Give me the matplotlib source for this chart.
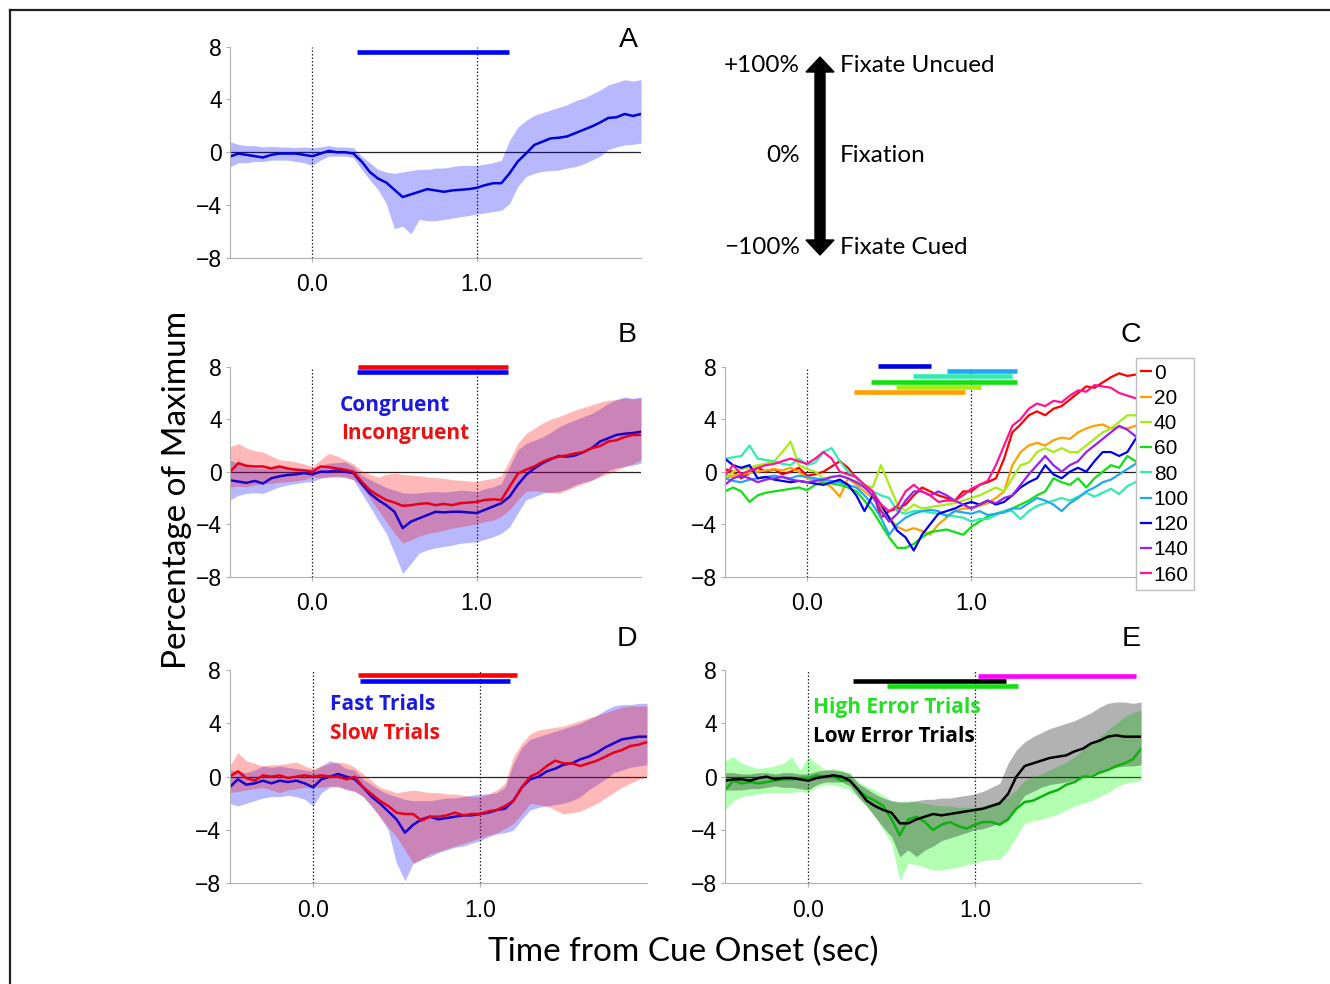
import numpy as np
import matplotlib
matplotlib.use('Agg')
import matplotlib.pyplot as plt
from matplotlib.patches import Polygon

plt.rcParams['font.family'] = ['Liberation Sans', 'DejaVu Sans']

# waktu (detik), grid 0.05 s
t = np.round(np.arange(-0.5, 2.0001, 0.05), 3)

# ---- Panel A ----
a_mean = [-0.33, -0.1, -0.2, -0.3, -0.4, -0.2, -0.1, -0.1, -0.1, -0.2, -0.3,
          -0.1, 0.1, 0.0, 0.0, -0.1, -0.7, -1.5, -2.0, -2.3, -2.85,
          -3.4, -3.2, -3.0, -2.8, -2.9, -3.0, -2.9, -2.85, -2.8, -2.7,
          -2.5, -2.35, -2.35, -1.6, -0.7, -0.1, 0.55, 0.8, 1.05, 1.1,
          1.2, 1.45, 1.7, 1.95, 2.25, 2.6, 2.65, 2.9, 2.75, 2.9]
a_upper = [0.8, 0.6, 0.5, 0.5, 0.4, 0.45, 0.4, 0.4, 0.35, 0.4, 0.35,
           0.4, 0.5, 0.4, 0.4, 0.35, -0.3, -0.8, -1.3, -1.5, -1.6,
           -1.5, -1.4, -1.3, -1.3, -1.2, -1.2, -1.1, -1.0, -1.0, -1.0,
           -0.9, -0.8, -0.6, 0.9, 1.9, 2.4, 2.8, 3.0, 3.2, 3.4,
           3.6, 3.9, 4.1, 4.4, 4.7, 5.1, 5.3, 5.5, 5.4, 5.5]
a_lower = [-1.1, -0.8, -0.8, -0.7, -0.7, -0.6, -0.6, -0.6, -0.7, -0.8, -1.0,
           -0.6, -0.3, -0.3, -0.3, -0.4, -1.3, -2.1, -2.85, -3.9, -5.8,
           -5.6, -6.2, -5.1, -5.2, -5.2, -5.1, -5.0, -4.9, -4.8, -4.7,
           -4.6, -4.5, -4.4, -3.9, -2.6, -1.85, -1.6, -1.45, -1.4, -1.35,
           -1.2, -1.1, -0.9, -0.6, -0.3, 0.2, 0.4, 0.55, 0.6, 0.7]
a_sig = [(0.27, 1.195, 7.6, '#0000ff')]

# ---- Panel B ----
b_cong = [-0.65, -0.75, -0.85, -0.7, -0.9, -0.5, -0.35, -0.25, -0.2, -0.1, -0.2,
          0.0, 0.0, 0.1, 0.0, -0.1, -0.9, -1.65, -2.15, -2.55, -3.05,
          -4.3, -3.8, -3.55, -3.3, -3.05, -3.1, -3.05, -3.05, -3.1, -3.15,
          -2.9, -2.65, -2.4, -1.9, -1.0, -0.25, 0.25, 0.65, 0.95, 1.2,
          1.15, 1.25, 1.5, 1.8, 2.3, 2.55, 2.8, 2.9, 2.95, 3.05]
b_incong = [0.0, 0.65, 0.45, 0.4, 0.4, 0.25, 0.4, 0.25, 0.15, 0.1, 0.0,
            0.4, 0.35, 0.25, 0.15, 0.0, -0.75, -1.4, -1.8, -2.15, -2.35,
            -2.6, -2.55, -2.45, -2.4, -2.55, -2.45, -2.55, -2.4, -2.35, -2.3,
            -2.15, -2.1, -2.15, -1.15, -0.15, 0.15, 0.4, 0.75, 1.0, 1.15,
            1.25, 1.4, 1.5, 1.8, 1.95, 2.3, 2.4, 2.65, 2.8, 2.8]
b_cong_up = [0.9, 0.6, 0.4, 0.3, 0.25, 0.3, 0.35, 0.3, 0.3, 0.25, 0.25,
             0.5, 0.65, 0.7, 0.75, 0.4, -0.25, -0.6, -0.9, -1.2, -1.4,
             -1.6, -1.65, -1.6, -1.55, -1.5, -1.55, -1.5, -1.4, -1.45, -1.5,
             -1.3, -1.15, -0.9, 0.4, 1.65, 2.15, 2.4, 2.65, 3.0, 3.4,
             3.7, 3.95, 4.2, 4.45, 4.8, 5.2, 5.5, 5.7, 5.6, 5.7]
b_cong_lo = [-2.15, -1.8, -1.65, -1.6, -1.65, -1.4, -1.15, -1.0, -0.9, -0.8, -0.75,
             -0.5, -0.4, -0.35, -0.4, -0.6, -1.65, -2.65, -3.7, -4.7, -6.2,
             -7.75, -7.0, -6.2, -5.95, -5.8, -5.7, -5.6, -5.45, -5.4, -5.35,
             -5.15, -4.95, -4.7, -4.2, -3.15, -2.15, -1.9, -1.65, -1.55, -1.5,
             -1.3, -1.0, -0.8, -0.65, -0.3, 0.1, 0.3, 0.4, 0.5, 0.65]
b_incong_up = [1.9, 2.15, 1.8, 1.6, 1.5, 1.2, 0.9, 0.85, 0.75, 0.6, 0.4,
               0.9, 1.4, 1.2, 0.9, 0.6, 0.1, -0.2, -0.4, -0.2, -0.1,
               -0.2, -0.25, -0.3, -0.4, -0.45, -0.5, -0.6, -0.65, -0.7, -0.75,
               -0.6, -0.5, -0.3, 0.9, 2.15, 2.9, 3.3, 3.7, 4.0, 4.2,
               4.45, 4.7, 4.9, 5.1, 5.3, 5.45, 5.5, 5.6, 5.55, 5.6]
b_incong_lo = [-1.15, -1.1, -1.15, -1.0, -0.9, -0.9, -0.8, -0.75, -0.7, -0.6, -0.4,
               -0.45, -0.4, -0.4, -0.45, -0.6, -1.15, -2.0, -2.9, -3.8, -4.7,
               -5.45, -5.2, -4.9, -4.7, -4.6, -4.45, -4.3, -4.2, -4.1, -3.95,
               -3.8, -3.7, -3.4, -2.9, -2.15, -1.5, -1.45, -1.5, -1.6, -1.65,
               -1.4, -1.15, -0.9, -0.65, -0.4, -0.15, 0.1, 0.4, 0.6, 0.9]
b_sig = [(0.28, 1.19, 8.0, '#ff0000'), (0.27, 1.19, 7.6, '#0000ff')]

# ---- Panel C ----
c_labels = ['0', '20', '40', '60', '80', '100', '120', '140', '160']
c_colors = ['#ff0000', '#ffa000', '#a8ec10', '#10e010', '#30ecb0',
            '#20a8f8', '#0000e8', '#9a20ee', '#ff1496']
c_0 = [0.2, 0.0, -0.5, -0.1, 0.3, 0.0, 0.2, -0.2, 0.0, 0.3, -0.3,
       -0.2, 0.0, 0.4, 0.8, 0.3, -0.5, -1.0, -1.5, -3.5, -3.0,
       -2.8, -2.5, -1.8, -1.2, -1.5, -1.8, -2.0, -2.2, -1.5, -1.5,
       -1.0, -0.8, -0.5, 1.0, 3.0, 3.6, 4.3, 4.6, 4.3, 4.8,
       5.0, 5.5, 6.0, 6.5, 6.4, 6.8, 7.2, 7.5, 7.3, 7.4]
c_20 = [-0.5, -0.3, -0.2, -0.1, 0.0, 0.1, 0.2, 0.1, 0.3, 0.0, -0.5,
        -0.6, -0.8, -1.2, -1.9, -0.5, -1.0, -1.5, -2.0, -2.8, -3.5,
        -4.2, -4.5, -4.3, -4.5, -4.8, -4.0, -3.5, -3.0, -2.8, -2.8,
        -2.6, -2.4, -2.0, -1.5, 0.5, 1.5, 2.0, 2.2, 2.0, 2.4,
        2.6, 2.5, 3.0, 3.3, 3.5, 3.6, 3.3, 3.4, 3.3, 3.5]
c_40 = [-0.5, 0.0, 0.2, 0.3, 0.5, 0.6, 0.8, 1.5, 2.3, 0.5, 0.2,
        0.0, -0.5, -0.4, -0.3, -0.5, -0.8, -1.0, -1.2, 0.5, -1.0,
        -2.5, -3.0, -2.5, -2.8, -2.7, -2.6, -2.5, -2.4, -2.2, -2.0,
        -1.8, -1.5, -1.2, -1.5, -0.5, 0.5, 0.7, 1.5, 1.8, 1.5,
        1.8, 1.5, 1.5, 2.0, 2.5, 3.0, 3.3, 3.8, 4.3, 4.3]
c_60 = [-1.5, -1.2, -1.5, -2.3, -1.8, -1.6, -1.5, -1.4, -1.3, -1.2, -1.4,
        -1.0, -0.8, -0.9, -1.0, -1.2, -1.5, -2.2, -3.0, -4.0, -5.0,
        -5.8, -5.8, -5.5, -5.0, -4.6, -4.5, -4.4, -4.6, -4.8, -4.2,
        -3.8, -3.4, -3.2, -3.0, -2.8, -2.5, -2.2, -1.8, -1.5, -0.5,
        -0.8, -1.0, -0.5, -1.2, -0.5, 0.0, 0.5, 0.3, 1.2, 0.8]
c_80 = [1.0, 1.1, 1.2, 2.0, 1.0, 0.9, 0.8, 0.6, 0.5, 1.0, 0.5,
        0.7, 1.5, 1.8, 0.8, 0.0, -0.5, -1.0, -1.5, -1.8, -2.0,
        -3.0, -3.2, -3.0, -3.0, -3.1, -3.2, -3.3, -3.4, -3.5, -3.8,
        -3.6, -3.6, -3.3, -3.0, -3.0, -3.6, -3.0, -2.6, -2.4, -2.2,
        -2.0, -2.2, -1.9, -1.6, -1.9, -1.6, -1.3, -1.7, -1.1, -0.8]
c_100 = [-0.5, -0.7, -0.8, -0.6, -0.5, -0.4, -0.3, -0.4, -0.5, -0.3, -0.4,
         -0.5, -0.6, -0.7, -0.8, -1.0, -1.2, -1.8, -2.5, -3.5, -4.8,
         -4.0, -3.5, -3.2, -3.0, -2.9, -3.0, -3.4, -3.0, -3.1, -3.2,
         -3.0, -3.3, -3.2, -3.1, -2.8, -2.8, -2.4, -2.0, -2.2, -2.5,
         -3.0, -2.4, -2.0, -1.5, -1.2, -0.8, -0.6, -0.2, 0.2, 0.6]
c_120 = [1.0, 0.5, 0.3, 0.5, -0.5, -0.4, -0.6, -0.7, -0.8, -0.7, -0.8,
         -0.9, -1.0, -0.8, -0.6, -1.0, -1.8, -3.0, -1.8, -2.5, -3.5,
         -4.5, -5.0, -6.0, -4.8, -4.0, -3.2, -3.0, -2.8, -2.5, -2.3,
         -2.5, -2.2, -2.5, -2.3, -1.8, -1.2, -0.8, -0.5, 0.5, -0.2,
         -0.5, 0.0, 0.3, 0.0, 0.8, 1.5, 1.5, 1.2, 1.5, 2.5]
c_140 = [-1.0, -0.5, -0.3, -0.5, -0.8, -0.6, -0.5, -0.4, -0.6, -0.7, -0.8,
         -0.7, -0.6, -0.4, -0.3, -0.5, -0.8, -1.2, -1.8, -3.0, -3.8,
         -3.2, -2.2, -1.5, -1.5, -1.8, -1.5, -1.8, -2.2, -2.5, -2.8,
         -2.5, -2.2, -2.4, -2.0, -1.8, -1.0, -0.2, 0.5, 1.2, 0.5,
         0.0, 0.5, 0.8, 1.5, 2.0, 2.5, 3.0, 3.5, 3.2, 2.7]
c_160 = [-0.3, 0.5, -0.2, 0.1, 0.3, 0.5, 0.6, 0.8, 1.0, 0.8, 0.6,
         1.0, 1.5, 1.0, 0.0, -0.2, -0.4, -1.0, -1.5, -2.5, -3.0,
         -2.6, -1.5, -1.0, -1.5, -1.8, -2.3, -2.2, -2.2, -1.8, -1.3,
         -1.0, -0.7, 0.5, 2.0, 3.5, 4.0, 4.8, 5.2, 5.0, 5.4,
         5.3, 5.8, 6.2, 6.1, 6.6, 6.5, 6.4, 6.0, 5.8, 5.6]
c_series = [c_0, c_20, c_40, c_60, c_80, c_100, c_120, c_140, c_160]
c_sig = [(0.43, 0.755, 8.08, '#0000e8'), (0.85, 1.28, 7.7, '#20a8f8'),
         (0.645, 1.25, 7.3, '#30ecb0'), (0.39, 1.28, 6.86, '#10e010'),
         (0.54, 1.06, 6.48, '#a8ec10'), (0.286, 0.96, 6.1, '#ffa000')]

# ---- Panel D ----
d_fast = [-0.8, -0.2, -0.6, -0.5, -0.3, -0.5, -0.3, -0.4, -0.3, -0.5, -0.8,
          -0.2, 0.0, 0.2, 0.0, -0.2, -0.8, -1.5, -2.0, -2.6, -3.2,
          -4.2, -3.6, -3.2, -3.0, -3.2, -3.1, -3.0, -2.9, -2.9, -2.8,
          -2.7, -2.5, -2.4, -1.8, -0.8, -0.2, 0.0, 0.4, 0.6, 0.9,
          1.0, 1.3, 1.5, 1.8, 2.2, 2.5, 2.8, 2.9, 3.0, 3.0]
d_slow = [0.0, 0.4, -0.1, -0.3, 0.1, 0.0, 0.1, -0.1, 0.0, 0.1, 0.0,
          0.1, 0.0, 0.0, -0.2, 0.0, -0.8, -1.3, -1.8, -2.2, -2.7,
          -2.8, -2.8, -3.3, -3.0, -3.0, -2.9, -2.7, -2.9, -2.8, -2.8,
          -2.6, -2.5, -2.2, -1.8, -0.8, 0.0, 0.3, 0.8, 1.2, 1.0,
          1.0, 0.8, 1.0, 1.2, 1.5, 1.8, 2.0, 2.3, 2.4, 2.6]
d_fast_up = [0.5, 0.4, 0.3, 0.5, 0.8, 0.7, 0.8, 0.7, 0.6, 0.5, 0.4,
             0.8, 1.2, 1.0, 0.6, 0.5, -0.2, -0.6, -1.0, -1.3, -1.5,
             -1.7, -1.8, -1.8, -1.8, -1.7, -1.6, -1.6, -1.5, -1.4, -1.3,
             -1.3, -1.2, -0.8, 1.0, 2.2, 2.8, 3.0, 3.2, 3.4, 3.6,
             3.8, 4.0, 4.3, 4.6, 5.0, 5.3, 5.4, 5.4, 5.5, 5.5]
d_fast_lo = [-2.0, -2.2, -2.0, -1.8, -1.6, -1.5, -1.5, -1.4, -1.5, -1.7, -2.2,
             -1.2, -0.8, -0.7, -1.0, -1.1, -1.5, -2.2, -3.0, -4.0, -6.5,
             -7.8, -6.5, -6.2, -6.0, -5.7, -5.5, -5.3, -5.2, -5.0, -4.8,
             -4.5, -4.3, -4.2, -4.0, -3.2, -2.5, -2.3, -2.2, -2.1, -2.0,
             -1.8, -1.5, -1.0, -0.6, -0.2, 0.3, 0.5, 0.7, 0.8, 0.9]
d_slow_up = [0.8, 1.8, 1.2, 1.0, 0.8, 0.9, 0.9, 1.0, 1.1, 0.8, 0.6,
             0.8, 1.0, 1.1, 1.0, 0.7, 0.2, -0.3, -0.8, -1.0, -1.2,
             -1.1, -1.0, -1.1, -1.2, -1.2, -1.3, -1.3, -1.4, -1.5, -1.5,
             -1.3, -1.0, -0.5, 1.5, 2.5, 3.2, 3.5, 3.6, 3.7, 3.8,
             4.0, 4.2, 4.4, 4.6, 4.8, 5.0, 5.2, 5.3, 5.3, 5.3]
d_slow_lo = [-1.2, -1.1, -1.0, -0.9, -0.8, -1.0, -1.2, -1.0, -0.9, -0.8, -0.8,
             -0.8, -0.7, -0.8, -0.9, -1.1, -1.5, -2.2, -3.0, -3.8, -4.5,
             -5.5, -6.5, -6.2, -5.8, -5.6, -5.4, -5.2, -5.0, -4.8, -4.6,
             -4.4, -4.2, -3.9, -3.5, -2.8, -2.0, -2.1, -2.2, -2.5, -2.8,
             -2.7, -2.6, -2.3, -2.0, -1.6, -1.2, -0.8, -0.5, -0.2, 0.0]
d_sig = [(0.27, 1.22, 7.6, '#ff0000'), (0.28, 1.18, 7.2, '#0000ff')]

# ---- Panel E ----
e_low = [-0.3, -0.2, -0.2, -0.3, -0.1, 0.0, -0.2, -0.1, -0.1, -0.2, -0.3,
         -0.1, 0.0, 0.1, 0.0, -0.3, -1.0, -1.8, -2.2, -2.5, -2.7,
         -3.5, -3.5, -3.2, -3.0, -2.8, -2.9, -2.8, -2.7, -2.6, -2.5,
         -2.4, -2.2, -2.0, -1.3, 0.0, 0.8, 1.0, 1.2, 1.4, 1.5,
         1.6, 1.9, 2.1, 2.5, 2.7, 3.0, 3.1, 3.0, 3.0, 3.0]
e_high = [-1.0, -0.3, -0.5, -0.4, -0.5, -0.4, -0.3, -0.2, -0.2, -0.1, -0.1,
          0.1, 0.0, 0.0, -0.3, -0.3, -1.0, -1.5, -1.8, -2.2, -3.2,
          -4.4, -3.2, -3.0, -3.4, -4.0, -3.6, -3.4, -3.7, -3.9, -3.6,
          -3.4, -3.4, -3.6, -3.2, -2.4, -1.9, -1.8, -1.5, -1.2, -1.0,
          -0.6, -0.4, 0.0, 0.0, 0.3, 0.5, 0.8, 1.0, 1.3, 2.1]
e_low_up = [0.3, 0.3, 0.2, 0.2, 0.3, 0.3, 0.2, 0.3, 0.3, 0.2, 0.2,
            0.4, 0.5, 0.5, 0.4, 0.2, -0.5, -0.9, -1.3, -1.6, -1.8,
            -1.9, -1.9, -1.8, -1.7, -1.7, -1.6, -1.6, -1.5, -1.4, -1.3,
            -1.1, -0.8, -0.5, 1.0, 2.0, 2.6, 3.0, 3.3, 3.6, 3.8,
            4.0, 4.2, 4.5, 4.8, 5.2, 5.5, 5.6, 5.6, 5.5, 5.6]
e_low_lo = [-1.0, -1.0, -1.0, -0.9, -0.9, -0.8, -0.7, -0.8, -0.8, -0.9, -1.0,
            -0.6, -0.4, -0.4, -0.4, -0.7, -1.5, -2.2, -3.0, -3.8, -4.5,
            -6.0, -5.5, -6.0, -5.5, -5.2, -4.8, -4.6, -4.4, -4.2, -4.0,
            -3.9, -3.7, -3.5, -3.3, -2.3, -1.4, -1.1, -0.8, -0.6, -0.5,
            -0.4, -0.2, 0.0, 0.2, 0.4, 0.6, 0.7, 0.8, 0.8, 0.9]
e_high_up = [1.2, 1.5, 1.0, 0.8, 0.6, 0.7, 0.8, 1.0, 1.5, 0.5, 1.5,
             1.0, 0.5, 0.6, 0.5, 0.3, -0.4, -0.7, -1.0, -1.4, -1.8,
             -1.9, -1.8, -1.9, -2.0, -2.1, -2.2, -2.2, -2.3, -2.3, -2.3,
             -2.2, -2.0, -1.8, -1.5, -1.0, -0.3, 0.0, 0.2, 0.5, 0.8,
             1.1, 1.5, 2.0, 2.5, 3.0, 3.5, 4.0, 4.5, 4.8, 5.0]
e_high_lo = [-2.5, -1.8, -1.5, -1.4, -1.3, -1.2, -1.2, -1.2, -1.2, -1.1, -1.2,
             -0.8, -0.6, -0.6, -0.8, -1.0, -1.6, -2.2, -3.0, -4.0, -5.0,
             -7.8, -6.5, -6.6, -6.8, -7.0, -7.0, -6.9, -6.8, -6.6, -6.5,
             -6.3, -6.2, -6.2, -5.5, -4.5, -3.5, -3.3, -3.2, -3.0, -2.8,
             -2.5, -2.2, -2.0, -1.8, -1.5, -1.2, -0.8, -0.5, -0.4, -0.3]
e_sig = [(1.02, 1.97, 7.55, '#ff00ff'), (0.27, 1.19, 7.2, '#000000'),
         (0.47, 1.26, 6.8, '#10e010')]


def style_axis(ax):
    ax.set_xlim(-0.5, 2.0)
    ax.set_ylim(-8, 8)
    ax.set_yticks([-8, -4, 0, 4, 8])
    ax.set_xticks([0, 1])
    ax.set_xticklabels(['0.0', '1.0'])
    for s in ['top', 'right']:
        ax.spines[s].set_visible(False)
    for s in ['left', 'bottom']:
        ax.spines[s].set_color('#b0b0b0')
    ax.tick_params(axis='both', labelsize=16.5, color='#b0b0b0', length=3)
    ax.tick_params(axis='x', pad=8)
    ax.tick_params(axis='y', pad=3)
    ax.axhline(0, color='#222222', lw=0.9, zorder=1)
    ax.axvline(0, color='#222222', lw=0.9, ls=(0, (1.2, 1.6)), zorder=1)
    ax.axvline(1, color='#222222', lw=0.9, ls=(0, (1.2, 1.6)), zorder=1)
    ax.set_facecolor('none')


def sig_bars(ax, bars):
    for x0, x1, y, c in bars:
        ax.plot([x0, x1], [y, y], color=c, lw=3.3, solid_capstyle='butt',
                clip_on=False, zorder=5)


fig = plt.figure(figsize=(13.3, 9.84), dpi=100)

# latar: bingkai, panah, teks keterangan (koordinat piksel)
bg = fig.add_axes([0, 0, 1, 1])
bg.set_xlim(0, 1330)
bg.set_ylim(984, 0)
bg.axis('off')
bg.plot([10, 1330], [10, 10], color='#222222', lw=1.6)
bg.plot([10, 10], [10, 984], color='#222222', lw=1.6)
arrow = [(820, 57), (834, 72), (825, 72), (825, 240), (834, 240), (820, 255),
         (806, 240), (815, 240), (815, 72), (806, 72)]
bg.add_patch(Polygon(arrow, closed=True, color='black'))
key_font = dict(family=['Lato', 'DejaVu Sans'], fontsize=17.5, va='center')
bg.text(800, 66, '+100%', ha='right', **key_font)
bg.text(840, 66, 'Fixate Uncued', ha='left', **key_font)
bg.text(800, 155, '0%', ha='right', **key_font)
bg.text(840, 155, 'Fixation', ha='left', **key_font)
bg.text(800, 248, '\u2212100%', ha='right', **key_font)
bg.text(840, 248, 'Fixate Cued', ha='left', **key_font)
panel_font = dict(fontsize=20.5, ha='center', va='center')
bg.text(628, 40, 'A', **panel_font)
bg.text(627, 335, 'B', **panel_font)
bg.text(1131, 335, 'C', **panel_font)
bg.text(627, 639, 'D', **panel_font)
bg.text(1131, 639, 'E', **panel_font)

lab_font = dict(family=['Lato', 'DejaVu Sans'], fontsize=24)
fig.text(0.133, 0.502, 'Percentage of Maximum', rotation=90,
         ha='center', va='center', **lab_font)
fig.text(0.514, 0.033, 'Time from Cue Onset (sec)', ha='center', va='center',
         **lab_font)

leg_font = dict(family=['Open Sans', 'DejaVu Sans'], fontsize=15,
                fontweight='bold', va='center', ha='left')

# Panel A
axA = fig.add_axes([0.1730, 0.7381, 0.3090, 0.2144])
style_axis(axA)
axA.fill_between(t, a_lower, a_upper, color='#0000ff', alpha=0.28, lw=0)
axA.plot(t, a_mean, color='#0000dd', lw=1.8)
sig_bars(axA, a_sig)

# Panel B
axB = fig.add_axes([0.1730, 0.4139, 0.3090, 0.2134])
style_axis(axB)
axB.fill_between(t, b_cong_lo, b_cong_up, color='#0000ff', alpha=0.28, lw=0)
axB.fill_between(t, b_incong_lo, b_incong_up, color='#ff0000', alpha=0.28, lw=0)
axB.plot(t, b_cong, color='#1a00cc', lw=1.8)
axB.plot(t, b_incong, color='#e8001a', lw=1.8)
sig_bars(axB, b_sig)
axB.text(0.17, 5.03, 'Congruent', color='#1a1adf', **leg_font)
axB.text(0.177, 2.9, 'Incongruent', color='#ee1010', **leg_font)

# Panel C
axC = fig.add_axes([0.5450, 0.4139, 0.3088, 0.2134])
style_axis(axC)
for vals, col, lab in zip(c_series, c_colors, c_labels):
    axC.plot(t, vals, color=col, lw=1.6, label=lab)
sig_bars(axC, c_sig)
leg = axC.legend(loc='upper left', bbox_to_anchor=(1.0, 1.04), fontsize=15,
                 handlelength=0.5, handletextpad=0.12, labelspacing=0.3,
                 borderpad=0.25, borderaxespad=0, frameon=True, fancybox=False)
leg.get_frame().set_edgecolor('#b0b0b0')
leg.get_frame().set_linewidth(1.0)

# Panel D
axD = fig.add_axes([0.1726, 0.1023, 0.3139, 0.2168])
style_axis(axD)
axD.fill_between(t, d_fast_lo, d_fast_up, color='#0000ff', alpha=0.28, lw=0)
axD.fill_between(t, d_slow_lo, d_slow_up, color='#ff0000', alpha=0.28, lw=0)
axD.plot(t, d_fast, color='#1a00cc', lw=1.8)
axD.plot(t, d_slow, color='#e8001a', lw=1.8)
sig_bars(axD, d_sig)
axD.text(0.10, 5.45, 'Fast Trials', color='#1a1adf', **leg_font)
axD.text(0.10, 3.27, 'Slow Trials', color='#ee1010', **leg_font)

# Panel E
axE = fig.add_axes([0.5452, 0.1023, 0.3128, 0.2168])
style_axis(axE)
axE.fill_between(t, e_high_lo, e_high_up, color='#00ff00', alpha=0.3, lw=0)
axE.fill_between(t, e_low_lo, e_low_up, color='#000000', alpha=0.3, lw=0)
axE.plot(t, e_high, color='#10b010', lw=1.8)
axE.plot(t, e_low, color='#000000', lw=1.8)
sig_bars(axE, e_sig)
axE.text(0.03, 5.22, 'High Error Trials', color='#22e022', **leg_font)
axE.text(0.03, 3.04, 'Low Error Trials', color='#000000', **leg_font)

fig.savefig('out.png', dpi=100)
